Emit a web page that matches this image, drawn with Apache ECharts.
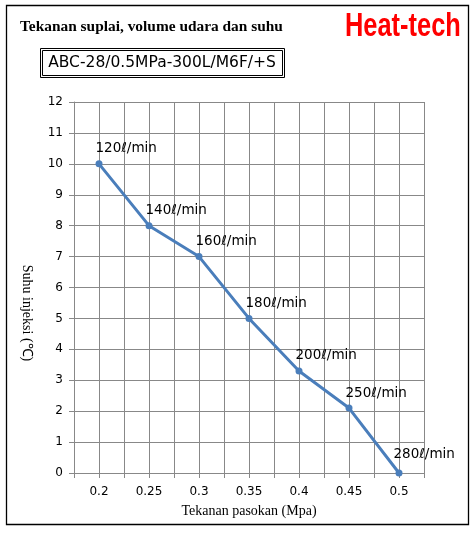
<!DOCTYPE html>
<html><head><meta charset="utf-8">
<script src="https://cdn.jsdelivr.net/npm/echarts@6/dist/echarts.min.js"></script>
<style>html,body{margin:0;padding:0;background:#fff}#c{width:473px;height:533px}</style>
</head><body><div id="c"></div>
<script>
const pressure = [0.2, 0.25, 0.3, 0.35, 0.4, 0.45, 0.5];
const temperature = [10, 8, 7, 5, 3.3, 2.1, 0];
const flowLabels = ['120ℓ/min','140ℓ/min','160ℓ/min','180ℓ/min','200ℓ/min','250ℓ/min','280ℓ/min'];
const titleText = 'Tekanan suplai, volume udara dan suhu';
const brandText = 'Heat-tech';
const modelText = 'ABC-28/0.5MPa-300L/M6F/+S';
const xName = 'Tekanan pasokan (Mpa)';
const yName = 'Suhu injeksi (℃)';

const chart = echarts.init(document.getElementById('c'));
const data = pressure.map((p, i) => {
  const item = {value: [p, temperature[i]]};
  if (i === pressure.length - 1) item.label = {position: [-2, -15.5]};
  return item;
});
chart.setOption({
  animation: false,
  grid: {left: 74, top: 102, right: 49, bottom: 60, containLabel: false},
  xAxis: {
    type: 'value', min: 0.175, max: 0.525, interval: 0.025,
    name: xName, nameLocation: 'middle', nameGap: 31,
    nameTextStyle: {fontFamily: 'Liberation Serif', fontSize: 14, color: '#000'},
    axisLine: {show: true, lineStyle: {color: '#888'}},
    axisTick: {show: true, length: 5, lineStyle: {color: '#888'}},
    axisLabel: {
      color: '#000', fontFamily: 'DejaVu Sans', fontSize: 12, margin: 13,
      formatter: function (v) {
        const m = Math.round(v * 1000);
        if (m % 50 !== 0 || m < 200 || m > 500) return '';
        return String(+(m / 1000).toFixed(3));
      }
    },
    splitLine: {show: true, lineStyle: {color: '#888', width: 1}}
  },
  yAxis: {
    type: 'value', min: 0, max: 12, interval: 1,
    axisLine: {show: true, lineStyle: {color: '#888'}},
    axisTick: {show: true, length: 5, lineStyle: {color: '#888'}},
    axisLabel: {color: '#000', fontFamily: 'DejaVu Sans', fontSize: 12, margin: 11},
    splitLine: {show: true, lineStyle: {color: '#888', width: 1}}
  },
  series: [{
    type: 'line', data: data,
    lineStyle: {color: '#4A7EBB', width: 3},
    itemStyle: {color: '#4A7EBB'},
    symbol: 'circle', symbolSize: 7,
    label: {
      show: true, position: [0, -11.5], align: 'left', verticalAlign: 'middle',
      color: '#000', fontFamily: 'DejaVu Sans', fontSize: 13.5,
      formatter: function (p) { return flowLabels[p.dataIndex]; }
    }
  }],
  graphic: [
    {type: 'rect', shape: {x: 6.5, y: 5.5, width: 462, height: 519}, style: {fill: 'none', stroke: '#000', lineWidth: 1.3}},
    {type: 'text', x: 20, y: 27, style: {text: titleText, font: 'bold 15.4px "Liberation Serif"', fill: '#000', textVerticalAlign: 'middle'}},
    {type: 'text', x: 345, y: 27, scaleX: 0.77, style: {text: brandText, font: 'bold 33px "Liberation Sans"', fill: '#FF0000', textAlign: 'left', textVerticalAlign: 'middle'}},
    {type: 'rect', shape: {x: 40.5, y: 48.5, width: 244, height: 29}, style: {fill: 'none', stroke: '#000', lineWidth: 1}},
    {type: 'rect', shape: {x: 42.5, y: 50.5, width: 240, height: 25}, style: {fill: 'none', stroke: '#000', lineWidth: 1}},
    {type: 'text', x: 162, y: 63, style: {text: modelText, font: '15.5px "DejaVu Sans"', fill: '#000', textAlign: 'center', textVerticalAlign: 'middle'}},
    {type: 'text', x: 27, y: 313, rotation: -Math.PI / 2, style: {text: yName, font: '14px "Liberation Serif"', fill: '#000', textAlign: 'center', textVerticalAlign: 'middle'}}
  ]
});
</script></body></html>
